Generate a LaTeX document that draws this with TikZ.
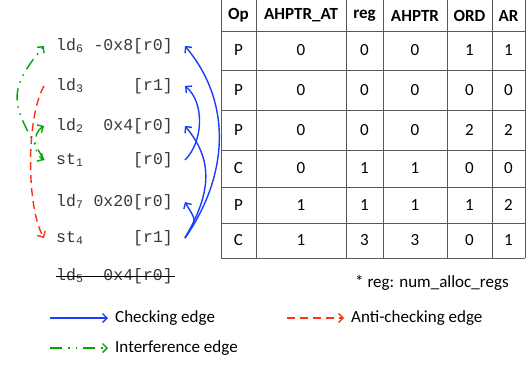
\documentclass[tikz,border=0pt]{standalone}
\usepackage{fontspec}
\setmainfont{Carlito}
\newfontfamily\codefont{Liberation Mono}
\usepackage{xcolor}
\usepackage{tikz}
\usetikzlibrary{
    positioning,
    arrows.meta
}
\definecolor{chkblue}{RGB}{25,60,255}
\definecolor{antired}{RGB}{255,50,20}
\definecolor{intgreen}{RGB}{0,165,0}
\definecolor{codegray}{RGB}{55,55,55}
\newcommand{\instr}[3]{\makebox[35pt][l]{#1}\makebox[42pt][r]{#2}#3}
\tikzset{
  insn/.style = {
      font=\codefont\fontsize{16.5}{19}\selectfont,
      text=codegray,
      inner xsep=12pt,
      inner ysep=2pt,
      anchor=west
  },
  cell/.style = {
      font=\fontsize{17}{20}\selectfont,
      inner sep=0pt
  },
  head/.style = {
      cell,
      font=\bfseries\fontsize{17}{20}\selectfont
  },
  grid/.style = {
      draw=black!65,
      line width=0.9pt
  },
  edgebase/.style = {
      line width=1.4pt,
      ->
  },
  check/.style = {
      edgebase,
      draw=chkblue
  },
  anti/.style = {
      edgebase,
      draw=antired,
      dash pattern=on 8pt off 5pt
  },
  interf/.style = {
      edgebase,
      draw=intgreen,
      dash pattern=on 12pt off 6pt on 1.5pt off 6pt on 1.5pt off 6pt
  },
  legend/.style = {
      font=\fontsize{17}{20}\selectfont,
      inner xsep=7pt,
      anchor=west
  },
  >={Straight Barb[length=4.5pt,width=9pt]}
}

\begin{document}
\begin{tikzpicture}[x=1pt,y=1pt]
        \useasboundingbox (0,0) rectangle (527,-364);
        % Instructions
        \node[insn] (ld6) at (44,-46) {\instr{ld\textsubscript{6}}{-0x8}{[r0]}};
        \node[insn] (ld3) at (44,-86) {\instr{ld\textsubscript{3}}{}{[r1]}};
        \node[insn] (ld2) at (44,-126) {\instr{ld\textsubscript{2}}{0x4}{[r0]}};
        \node[insn] (st1) at (44,-160) {\instr{st\textsubscript{1}}{}{[r0]}};
        \node[insn] (ld7) at (44,-202) {\instr{ld\textsubscript{7}}{0x20}{[r0]}};
        \node[insn] (st4) at (44,-238) {\instr{st\textsubscript{4}}{}{[r1]}};
        \node[insn] (ld5) at (44,-276) {\instr{ld\textsubscript{5}}{0x4}{[r0]}};
        \draw[line width=0.9pt] ([xshift=12pt]ld5.west) -- ([xshift=-10pt]ld5.east);
        % Edges
        \draw[check] (st1.east) to[out=45, in=-40, looseness=0.9] (ld3.east);
        \draw[check] (st4.east) to[out=55, in=-50, looseness=1.0] (ld6.east);
        \draw[check] (st4.east) to[out=60, in=-50, looseness=1.1] (ld2.east);
        \draw[check] (st4.east) to[out=60, in=-60, looseness=1.7] (ld7.east);
        \draw[anti] (ld3.west) to[out=-120, in=120, looseness=0.6] (st4.west);
        \draw[interf] (st1.west) to[out=120, in=-130, looseness=1.4] (ld6.west);
        \draw[interf, <->] (ld2.west) to[out=-150, in=150, looseness=1] (st1.west);
        % Table
        \foreach \x in {221,256,346,383,447,492,525}
            \draw[grid] (\x,0) -- (\x,-258);
        \foreach \y in {31,70,110,150,187,223,258}
            \draw[grid] (221,-\y) -- (525,-\y);
        \node[head] (h1) at (238.5,-15.5) {Op};
        \node[head] (h2) at (301,-15.5) {AHPTR\_AT};
        \node[head] (h3) at (364.5,-15.5) {reg};
        \node[head] (h4) at (415,-15.5) {AHPTR};
        \node[head] (h5) at (469.5,-15.5) {ORD};
        \node[head] (h6) at (508.5,-15.5) {AR};
        \foreach \r/\y/\a/\b/\c/\d/\e/\f in {
            1/50.5/P/0/0/0/1/1,
            2/90/P/0/0/0/0/0,
            3/130/P/0/0/0/2/2,
            4/168.5/C/0/1/1/0/0,
            5/205/P/1/1/1/1/2,
            6/240.5/C/1/3/3/0/1}
        {
            \node[cell] (t\r-1) at (238.5,-\y) {\a};
            \node[cell] (t\r-2) at (301,-\y) {\b};
            \node[cell] (t\r-3) at (364.5,-\y) {\c};
            \node[cell] (t\r-4) at (415,-\y) {\d};
            \node[cell] (t\r-5) at (469.5,-\y) {\e};
            \node[cell] (t\r-6) at (508.5,-\y) {\f};
        }
        \node[cell, anchor=west] (note) at (355,-283) {* reg: num\_alloc\_regs};
        % Legend
        \coordinate (lg1) at (50,-318);
        \node[legend] (chklbl) at (108,-318) {Checking edge};
        \draw[check] (lg1) -- (chklbl.west);
        \coordinate (lg2) at (287,-318);
        \node[legend] (antilbl) at (344,-318) {Anti-checking edge};
        \draw[anti] (lg2) -- (antilbl.west);
        \coordinate (lg3) at (50,-348);
        \node[legend] (intlbl) at (108,-348) {Interference edge};
        \draw[interf] (lg3) -- (intlbl.west);
    \end{tikzpicture}
\end{document}
